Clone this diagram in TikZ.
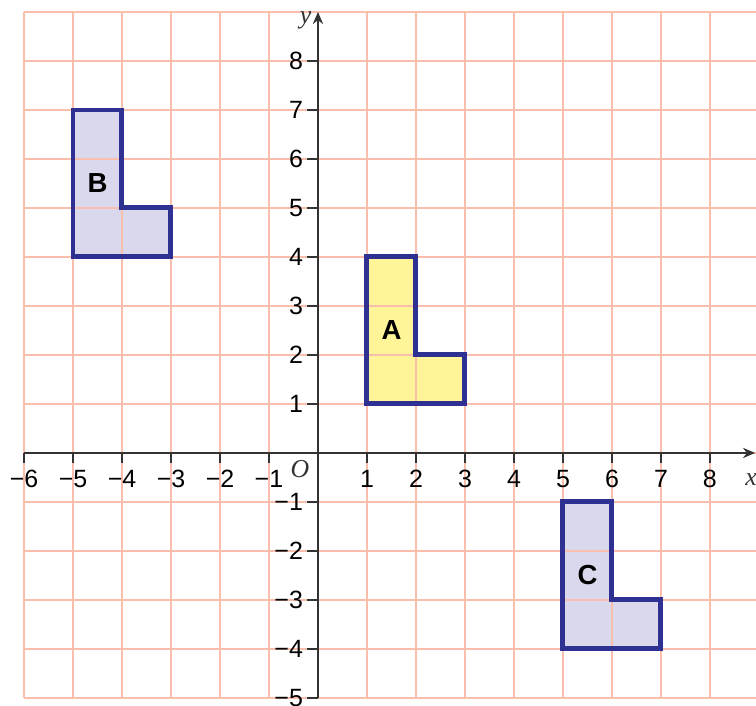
\documentclass[tikz,border=0pt]{standalone}
\usepackage{fontspec}
\setmainfont{Liberation Sans}
\newfontfamily\axfont{Liberation Serif}
\usetikzlibrary{arrows.meta}
\definecolor{gridc}{RGB}{250,190,172}
\definecolor{edgec}{RGB}{46,49,146}
\definecolor{lav}{RGB}{217,216,236}
\definecolor{yel}{RGB}{255,245,152}
\definecolor{axc}{RGB}{51,51,51}
\tikzset{
  shapeedge/.style={draw=edgec, line width=2.9pt, line join=miter},
  gridline/.style={draw=gridc, line width=0.9pt},
  axis/.style={draw=axc, line width=0.8pt},
  ticklab/.style={font=\fontsize{14.5}{16}\selectfont, text=black, inner sep=0pt},
  shapelab/.style={font=\fontsize{16}{18}\selectfont\bfseries, text=black, inner sep=0pt},
  axlab/.style={font=\fontsize{15}{17}\selectfont\axfont\itshape, text=axc, inner sep=0pt}
}
\begin{document}
\begin{tikzpicture}[x=1cm,y=1cm]
\useasboundingbox (-6.49,-5.163) rectangle (8.94,9.245);
% fills
\fill[yel] (1,1) -- (3,1) -- (3,2) -- (2,2) -- (2,4) -- (1,4) -- cycle;
\fill[lav] (-5,4) -- (-3,4) -- (-3,5) -- (-4,5) -- (-4,7) -- (-5,7) -- cycle;
\fill[lav] (5,-4) -- (7,-4) -- (7,-3) -- (6,-3) -- (6,-1) -- (5,-1) -- cycle;
% grid
\begin{scope}
\clip (-6.49,-5.163) rectangle (8.94,9.245);
\draw[gridline] (-6,-5) grid (9.5,9);
\end{scope}
% axes
\coordinate (xs) at (-6,0);
\coordinate (xe) at (8.92,0);
\coordinate (ys) at (0,-5);
\coordinate (ye) at (0,9.0);
\draw[axis, -{Stealth[length=7pt,width=6pt]}] (xs) -- (xe);
\draw[axis, -{Stealth[length=7pt,width=6pt]}] (ys) -- (ye);
\foreach \x in {-6,...,-1,1,2,...,8} {
  \draw[axis] (\x,0) -- (\x,-0.2);
}
\foreach \y in {-5,...,-1,1,2,...,8} {
  \draw[axis] (0,\y) -- (-0.22,\y);
}
\foreach \x in {-6,...,-1} {
  \pgfmathtruncatemacro\a{abs(\x)}
  \node[ticklab] (xl\x) at (\x,-0.53) {−\a};
}
\foreach \x in {1,...,8} {
  \node[ticklab] (xl\x) at (\x,-0.53) {\x};
}
\foreach \y in {-5,...,-1} {
  \pgfmathtruncatemacro\a{abs(\y)}
  \node[ticklab, anchor=east] (yl\y) at (-0.3,\y) {−\a};
}
\foreach \y in {1,...,8} {
  \node[ticklab, anchor=east] (yl\y) at (-0.3,\y) {\y};
}
\node[axlab] (orig) at (-0.37,-0.33) {O};
\node[axlab] (ylab) at (-0.25,8.82) {y};
\node[axlab] (xlab) at (8.84,-0.55) {x};
% outlines
\draw[shapeedge] (1,1) -- (3,1) -- (3,2) -- (2,2) -- (2,4) -- (1,4) -- cycle;
\draw[shapeedge] (-5,4) -- (-3,4) -- (-3,5) -- (-4,5) -- (-4,7) -- (-5,7) -- cycle;
\draw[shapeedge] (5,-4) -- (7,-4) -- (7,-3) -- (6,-3) -- (6,-1) -- (5,-1) -- cycle;
\node[shapelab] (la) at (1.5,2.5) {A};
\node[shapelab] (lb) at (-4.5,5.5) {B};
\node[shapelab] (lc) at (5.5,-2.5) {C};
\end{tikzpicture}
\end{document}
